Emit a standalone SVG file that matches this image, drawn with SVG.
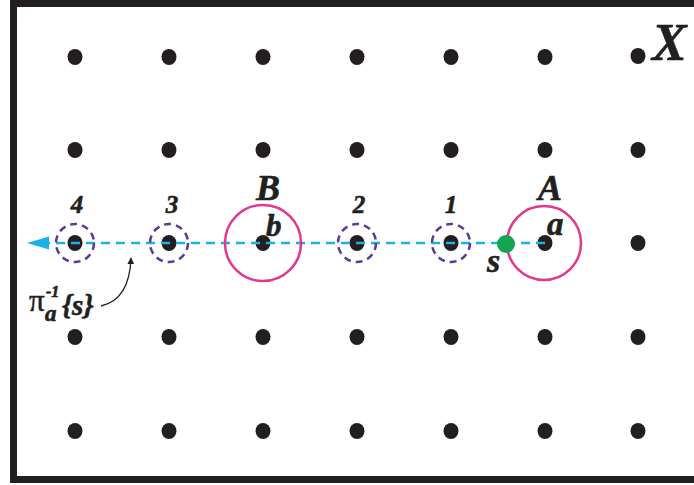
<svg xmlns="http://www.w3.org/2000/svg" width="694" height="485" viewBox="0 0 694 485">
<style>
.dot{fill:#231f20}
.lbl{font-family:"Liberation Serif",serif;font-weight:bold;font-style:italic;fill:#231f20;stroke:#231f20;stroke-width:0.6}
.dc{fill:none;stroke:#5b3a9a;stroke-width:2.5;stroke-dasharray:7 5}
.pc{fill:none;stroke:#e2368f;stroke-width:2.5}
</style>
<defs>
<marker id="ah" viewBox="0 0 10 10" refX="9" refY="5" markerWidth="7" markerHeight="7" orient="auto" markerUnits="userSpaceOnUse">
<path d="M0,0 L10,5 L0,10 Z" fill="#231f20"/>
</marker>
<ellipse id="d" rx="7.5" ry="8" class="dot"/>
</defs>
<rect width="694" height="485" fill="#fff"/>
<rect x="13.5" y="3.5" width="700" height="476" fill="none" stroke="#231f20" stroke-width="7"/>
<g id="grid">
<use href="#d" x="75" y="57"/><use href="#d" x="169" y="57"/><use href="#d" x="263" y="57"/><use href="#d" x="357" y="57"/><use href="#d" x="451" y="57"/><use href="#d" x="545" y="57"/><use href="#d" x="638" y="56"/>
<use href="#d" x="75" y="150"/><use href="#d" x="169" y="150"/><use href="#d" x="263" y="150"/><use href="#d" x="357" y="150"/><use href="#d" x="451" y="150"/><use href="#d" x="545" y="150"/><use href="#d" x="638" y="150"/>
<use href="#d" x="75" y="243"/><use href="#d" x="169" y="243"/><use href="#d" x="263" y="243"/><use href="#d" x="357" y="243"/><use href="#d" x="451" y="243"/><use href="#d" x="545" y="243"/><use href="#d" x="638" y="243"/>
<use href="#d" x="75" y="337"/><use href="#d" x="169" y="337"/><use href="#d" x="263" y="337"/><use href="#d" x="357" y="337"/><use href="#d" x="451" y="337"/><use href="#d" x="545" y="337"/><use href="#d" x="638" y="337"/>
<use href="#d" x="75" y="431"/><use href="#d" x="169" y="431"/><use href="#d" x="263" y="431"/><use href="#d" x="357" y="431"/><use href="#d" x="451" y="431"/><use href="#d" x="545" y="431"/><use href="#d" x="638" y="431"/>
</g>
<g id="connectors">
<line x1="545" y1="243" x2="48" y2="243" stroke="#1ab0e8" stroke-width="2.5" stroke-dasharray="9 6"/>
<path d="M27,243 L49,236.5 L49,249.5 Z" fill="#1ab0e8"/>
<path d="M101,306 C119,302 130,286 131,258" fill="none" stroke="#231f20" stroke-width="1.3" marker-end="url(#ah)"/>
</g>
<g id="c4"><circle cx="75" cy="243" r="19" class="dc"/><text x="77" y="213" class="lbl" font-size="25" text-anchor="middle">4</text></g>
<g id="c3"><circle cx="169" cy="243" r="19" class="dc"/><text x="172" y="213" class="lbl" font-size="25" text-anchor="middle">3</text></g>
<g id="c2"><circle cx="357" cy="243" r="19" class="dc"/><text x="359" y="213" class="lbl" font-size="25" text-anchor="middle">2</text></g>
<g id="c1"><circle cx="451" cy="243" r="19" class="dc"/><text x="451" y="213" class="lbl" font-size="25" text-anchor="middle">1</text></g>
<g id="B"><circle cx="263" cy="243" r="38" class="pc"/><text x="268" y="200" class="lbl" font-size="36" text-anchor="middle">B</text><text x="266" y="236" class="lbl" font-size="31">b</text></g>
<g id="A"><circle cx="544" cy="243" r="37" class="pc"/><text x="550" y="200" class="lbl" font-size="36" text-anchor="middle">A</text><text x="547" y="235" class="lbl" font-size="33">a</text></g>
<g id="s"><circle cx="506" cy="244" r="9" fill="#12a650"/><text x="487" y="272" class="lbl" font-size="34">s</text></g>
<g id="pi">
<text x="29" y="311" font-family="Liberation Serif,serif" font-size="31" fill="#231f20" stroke="#231f20" stroke-width="0.5">π</text>
<text x="46" y="297" class="lbl" font-size="16">-1</text>
<text x="45" y="321" class="lbl" font-size="23">a</text>
<text x="62" y="315" class="lbl" font-size="29">{s}</text>
</g>
<text x="652" y="60" class="lbl" font-size="52">X</text>
</svg>
